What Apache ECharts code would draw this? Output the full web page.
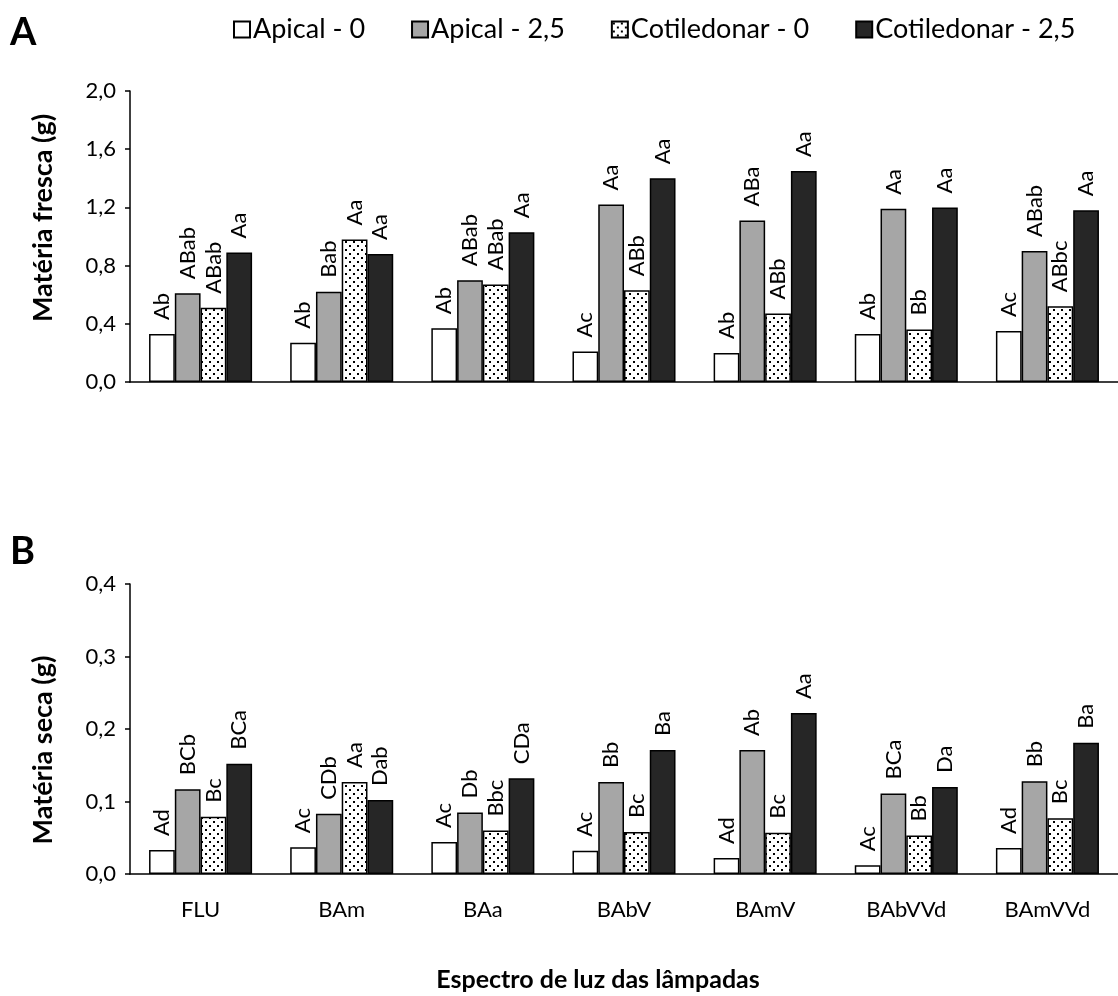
<!DOCTYPE html>
<html>
<head>
<meta charset="utf-8">
<script src="https://cdn.jsdelivr.net/npm/echarts@6/dist/echarts.min.js"></script>
<style>
  html, body { margin: 0; padding: 0; background: #fff; }
  #chart { width: 1118px; height: 996px; }
</style>
</head>
<body>
<div id="chart"></div>
<script>
const categories = ['FLU', 'BAm', 'BAa', 'BAbV', 'BAmV', 'BAbVVd', 'BAmVVd'];
const seriesNames = ['Apical - 0', 'Apical - 2,5', 'Cotiledonar - 0', 'Cotiledonar - 2,5'];

// Matéria fresca (g)
const freshApical0 = [0.33, 0.27, 0.37, 0.21, 0.20, 0.33, 0.35];
const freshApical25 = [0.61, 0.62, 0.70, 1.22, 1.11, 1.19, 0.90];
const freshCot0 = [0.51, 0.98, 0.67, 0.63, 0.47, 0.36, 0.52];
const freshCot25 = [0.89, 0.88, 1.03, 1.40, 1.45, 1.20, 1.18];
const freshApical0Labels = ['Ab', 'Ab', 'Ab', 'Ac', 'Ab', 'Ab', 'Ac'];
const freshApical25Labels = ['ABab', 'Bab', 'ABab', 'Aa', 'ABa', 'Aa', 'ABab'];
const freshCot0Labels = ['ABab', 'Aa', 'ABab', 'ABb', 'ABb', 'Bb', 'ABbc'];
const freshCot25Labels = ['Aa', 'Aa', 'Aa', 'Aa', 'Aa', 'Aa', 'Aa'];

// Matéria seca (g)
const dryApical0 = [0.033, 0.037, 0.044, 0.032, 0.022, 0.012, 0.036];
const dryApical25 = [0.117, 0.083, 0.085, 0.127, 0.171, 0.111, 0.128];
const dryCot0 = [0.079, 0.127, 0.060, 0.058, 0.057, 0.053, 0.077];
const dryCot25 = [0.152, 0.102, 0.132, 0.171, 0.222, 0.120, 0.181];
const dryApical0Labels = ['Ad', 'Ac', 'Ac', 'Ac', 'Ad', 'Ac', 'Ad'];
const dryApical25Labels = ['BCb', 'CDb', 'Db', 'Bb', 'Ab', 'BCa', 'Bb'];
const dryCot0Labels = ['Bc', 'Aa', 'Bbc', 'Bc', 'Bc', 'Bb', 'Bc'];
const dryCot25Labels = ['BCa', 'Dab', 'CDa', 'Ba', 'Aa', 'Da', 'Ba'];

const FONT = 'Lato';

// dotted pattern
const pc = document.createElement('canvas');
pc.width = 8; pc.height = 8;
const pctx = pc.getContext('2d');
pctx.fillStyle = '#ffffff';
pctx.fillRect(0, 0, 8, 8);
pctx.fillStyle = '#000000';
pctx.fillRect(1, 1, 2, 2);
pctx.fillRect(5, 5, 2, 2);
const dotted = { image: pc, repeat: 'repeat' };

const fills = ['#ffffff', '#a6a6a6', dotted, '#262626'];

function fmt(v) { return v.toFixed(1).replace('.', ','); }

function makeSeries(name, data, labels, idx, axisIdx) {
  return {
    name: name,
    type: 'bar',
    xAxisIndex: axisIdx,
    yAxisIndex: axisIdx,
    data: data,
    barGap: '0%',
    barCategoryGap: '27%',
    itemStyle: { color: fills[idx], borderColor: '#000', borderWidth: 1.5 },
    label: {
      show: true,
      position: 'top',
      rotate: 90,
      align: 'left',
      verticalAlign: 'middle',
      distance: 14,
      fontFamily: FONT,
      fontSize: 22,
      color: '#000',
      formatter: p => labels[p.dataIndex]
    },
    emphasis: { disabled: true },
    animation: false
  };
}

const gridW = 995;
const option = {
  backgroundColor: '#fff',
  animation: false,
  textStyle: { fontFamily: FONT },
  legend: {
    data: seriesNames,
    top: 11,
    left: 228,
    icon: 'rect',
    itemWidth: 16,
    itemHeight: 16,
    itemGap: 46,
    textStyle: { fontFamily: FONT, fontSize: 27, color: '#000', padding: [0, 0, 0, -2] }
  },
  grid: [
    { left: 130, top: 91, width: gridW, height: 291 },
    { left: 130, top: 584, width: gridW, height: 290 }
  ],
  xAxis: [0, 1].map(i => ({
    type: 'category',
    gridIndex: i,
    data: categories,
    axisTick: { show: false },
    axisLine: { lineStyle: { color: '#000', width: 1.5 } },
    axisLabel: { show: i === 1, fontFamily: FONT, fontSize: 22, color: '#000', margin: 25 }
  })),
  yAxis: [
    { type: 'value', gridIndex: 0, min: 0, max: 2, interval: 0.4 },
    { type: 'value', gridIndex: 1, min: 0, max: 0.4, interval: 0.1 }
  ].map(a => Object.assign(a, {
    splitLine: { show: false },
    axisLine: { show: true, lineStyle: { color: '#000', width: 1.5 } },
    axisTick: { show: true, inside: false, length: 5, lineStyle: { color: '#000', width: 1.5 } },
    axisLabel: { fontFamily: FONT, fontSize: 22, color: '#000', margin: 14, formatter: fmt }
  })),
  graphic: [
    { type: 'text', left: 10, top: 14, style: { text: 'A', font: 'bold 38px ' + FONT, fill: '#000' } },
    { type: 'text', left: 10, top: 533, style: { text: 'B', font: 'bold 38px ' + FONT, fill: '#000' } },
    { type: 'text', x: 43, y: 218, rotation: Math.PI / 2,
      style: { text: 'Matéria fresca (g)', font: 'bold 27px ' + FONT, fill: '#000', align: 'center', verticalAlign: 'middle' } },
    { type: 'text', x: 43, y: 750, rotation: Math.PI / 2,
      style: { text: 'Matéria seca (g)', font: 'bold 27px ' + FONT, fill: '#000', align: 'center', verticalAlign: 'middle' } },
    { type: 'text', x: 598, y: 980,
      style: { text: 'Espectro de luz das lâmpadas', font: 'bold 25px ' + FONT, fill: '#000', align: 'center', verticalAlign: 'middle' } }
  ],
  series: [
    makeSeries(seriesNames[0], freshApical0, freshApical0Labels, 0, 0),
    makeSeries(seriesNames[1], freshApical25, freshApical25Labels, 1, 0),
    makeSeries(seriesNames[2], freshCot0, freshCot0Labels, 2, 0),
    makeSeries(seriesNames[3], freshCot25, freshCot25Labels, 3, 0),
    makeSeries(seriesNames[0], dryApical0, dryApical0Labels, 0, 1),
    makeSeries(seriesNames[1], dryApical25, dryApical25Labels, 1, 1),
    makeSeries(seriesNames[2], dryCot0, dryCot0Labels, 2, 1),
    makeSeries(seriesNames[3], dryCot25, dryCot25Labels, 3, 1)
  ]
};

const chart = echarts.init(document.getElementById('chart'), null, { renderer: 'canvas' });
chart.setOption(option);
</script>
</body>
</html>
